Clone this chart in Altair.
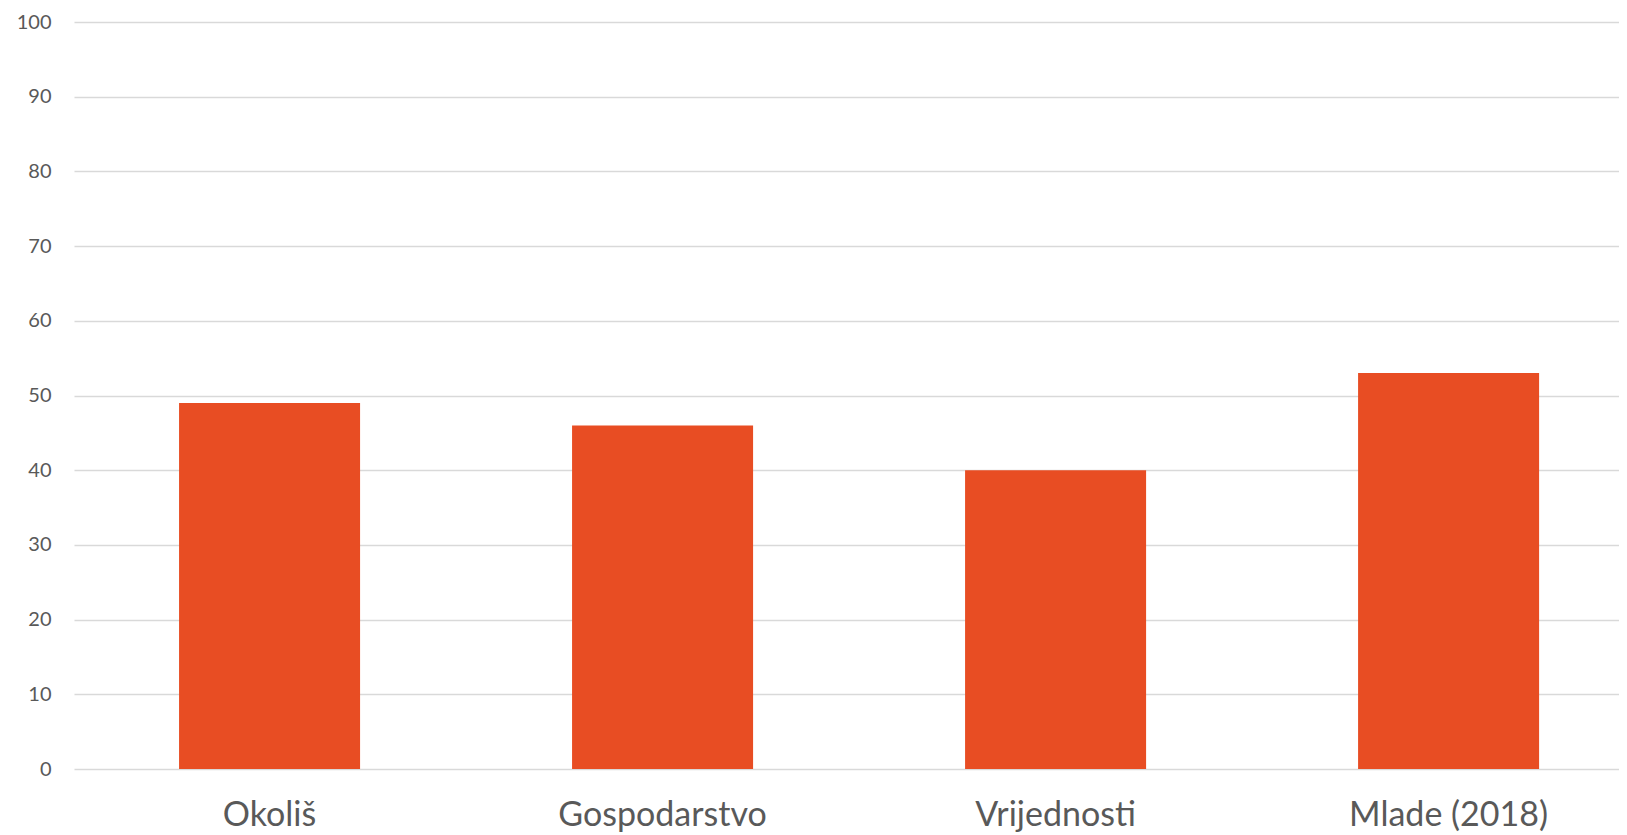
import altair as alt
import pandas as pd

categories = ["Okoliš", "Gospodarstvo", "Vrijednosti", "Mlade (2018)"]
values = [49, 46, 40, 53]
y_ticks = [0, 10, 20, 30, 40, 50, 60, 70, 80, 90, 100]

df = pd.DataFrame({"cat": categories, "val": values})

chart = alt.Chart(df).mark_bar(color="#E84D23").encode(
    x=alt.X("cat:N", sort=categories, title=None,
            scale=alt.Scale(paddingInner=0.5394, paddingOuter=0.2353, align=0.568),
            axis=alt.Axis(labelAngle=0, labelFont="Lato", labelFontSize=34,
                          labelColor="#595959", ticks=False, domain=False,
                          labelPadding=29, grid=False, labelLimit=0)),
    y=alt.Y("val:Q", title=None,
            scale=alt.Scale(domain=[0, 100], nice=False),
            axis=alt.Axis(values=y_ticks, labelFont="Lato", labelFontSize=20,
                          labelColor="#595959", ticks=False, domain=False,
                          labelPadding=23, minExtent=66, maxExtent=66,
                          gridColor="#d9d9d9", gridWidth=1.5)),
).properties(
    width=1545, height=747,
    padding={"left": 0, "top": 4, "right": 0, "bottom": 0},
).configure_view(stroke=None).configure_axis(labelFlush=False)

chart.save("out.html", embed_options={"renderer": "svg", "actions": False})
